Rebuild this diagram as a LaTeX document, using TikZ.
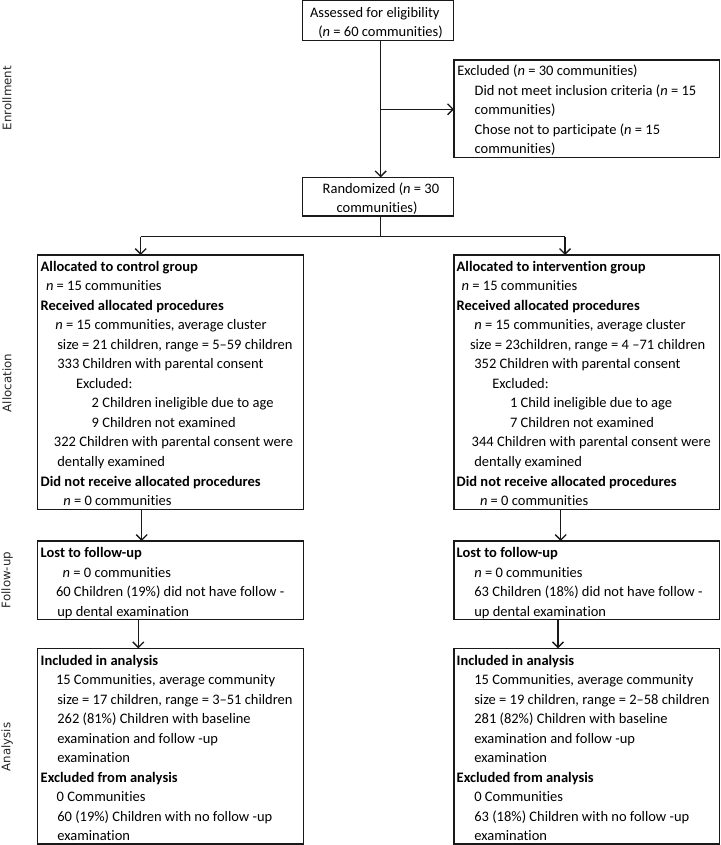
\documentclass[tikz,border=0pt]{standalone}
\usepackage{fontspec}
\setmainfont{Carlito}[Ligatures=NoCommon]
\newfontfamily\sidefont{DejaVu Sans}
\usetikzlibrary{arrows.meta}
\newcommand\tl[2]{\hbox{\kern#1pt #2}}
\begin{document}
\begin{tikzpicture}[x=1pt,y=-1pt,
  box/.style={draw=black!90, line width=1.3pt, inner sep=0pt, outer sep=0pt},
  txt/.style={anchor=base west, inner sep=0pt, outer sep=0pt, font=\fontsize{14.5pt}{19.55pt}\selectfont},
  side/.style={rotate=90, inner sep=0pt, font=\sidefont\fontsize{11.8pt}{14pt}\selectfont, text=black!85},
  conn/.style={line width=1.3pt, draw=black!90},
  arr/.style={conn, -{Straight Barb[length=5.5pt,width=11pt,line width=1.3pt]}}]
\useasboundingbox (0,0) rectangle (720,845);

% boxes
\node[box, minimum width=150.6pt, minimum height=39.6pt] (assess) at (378,20.5) {};
\node[box, minimum width=265.3pt, minimum height=97.3pt] (excl) at (586.65,108.65) {};
\node[box, minimum width=150.6pt, minimum height=38.7pt] (rand) at (378,196.65) {};
\node[box, minimum width=265.6pt, minimum height=254.3pt] (ctrl) at (170.5,382.15) {};
\node[box, minimum width=265.3pt, minimum height=254.3pt] (intv) at (586.65,382.15) {};
\node[box, minimum width=265.6pt, minimum height=78.3pt] (fuc) at (170.5,580.15) {};
\node[box, minimum width=265.3pt, minimum height=78.3pt] (fui) at (586.65,580.15) {};
\node[box, minimum width=265.6pt, minimum height=195.7pt] (anc) at (170.5,746.15) {};
\node[box, minimum width=265.3pt, minimum height=195.7pt] (ani) at (586.65,746.15) {};

% texts
\node[txt] (assesst) at (310,17.2) {\vtop{\baselineskip=19.6pt
  \tl{0}{Assessed for eligibility}
  \tl{8.3}{(\textit{n} = 60 communities)}}};
\node[txt] (exclt) at (457.3,75.6) {\vtop{\baselineskip=19.6pt
  \tl{0}{Excluded (\textit{n} = 30 communities)}
  \tl{17.4}{Did not meet inclusion criteria (\textit{n} = 15}
  \tl{17.4}{communities)}
  \tl{17.4}{Chose not to participate (\textit{n} = 15}
  \tl{17.4}{communities)}}};
\node[txt] (randt) at (322.7,193.3) {\vtop{\baselineskip=19.6pt
  \tl{0}{Randomized (\textit{n} = 30}
  \tl{14}{communities)}}};

\node[txt] (ctrlt) at (40.7,271) {\vtop{\baselineskip=19.55pt
  \tl{0}{\textbf{Allocated to control group}}
  \tl{5.3}{\textit{n} = 15 communities}
  \tl{0}{\textbf{Received allocated procedures}}
  \tl{14.6}{\textit{n} = 15 communities, average cluster}
  \tl{16.6}{size = 21 children, range = 5--59 children}
  \tl{16.6}{333 Children with parental consent}
  \tl{35.3}{Excluded:}
  \tl{51}{2 Children ineligible due to age}
  \tl{51}{9 Children not examined}
  \tl{13.3}{322 Children with parental consent were}
  \tl{16.6}{dentally examined}
  \tl{0}{\textbf{Did not receive allocated procedures}}
  \tl{22.6}{\textit{n} = 0 communities}}};

\node[txt] (intvt) at (456.7,271) {\vtop{\baselineskip=19.55pt
  \tl{0}{\textbf{Allocated to intervention group}}
  \tl{5}{\textit{n} = 15 communities}
  \tl{0}{\textbf{Received allocated procedures}}
  \tl{17.6}{\textit{n} = 15 communities, average cluster}
  \tl{13.3}{size = 23children, range = 4 --71 children}
  \tl{17.6}{352 Children with parental consent}
  \tl{35.6}{Excluded:}
  \tl{53.3}{1 Child ineligible due to age}
  \tl{53.3}{7 Children not examined}
  \tl{15}{344 Children with parental consent were}
  \tl{17.6}{dentally examined}
  \tl{0}{\textbf{Did not receive allocated procedures}}
  \tl{23.3}{\textit{n} = 0 communities}}};

\node[txt] (fuct) at (40.7,557.5) {\vtop{\baselineskip=19.55pt
  \tl{0}{\textbf{Lost to follow-up}}
  \tl{22}{\textit{n} = 0 communities}
  \tl{15.3}{60 Children (19\%) did not have follow -}
  \tl{16.6}{up dental examination}}};

\node[txt] (fuit) at (456.7,557.5) {\vtop{\baselineskip=19.55pt
  \tl{0}{\textbf{Lost to follow-up}}
  \tl{17.6}{\textit{n} = 0 communities}
  \tl{17.6}{63 Children (18\%) did not have follow -}
  \tl{17.6}{up dental examination}}};

\node[txt] (anct) at (40.7,665) {\vtop{\baselineskip=19.55pt
  \tl{0}{\textbf{Included in analysis}}
  \tl{15.3}{15 Communities, average community}
  \tl{16.6}{size = 17 children, range = 3--51 children}
  \tl{16.6}{262 (81\%) Children with baseline}
  \tl{16.6}{examination and follow -up}
  \tl{16.6}{examination}
  \tl{0}{\textbf{Excluded from analysis}}
  \tl{16}{0 Communities}
  \tl{16.6}{60 (19\%) Children with no follow -up}
  \tl{16.6}{examination}}};

\node[txt] (anit) at (456.7,665) {\vtop{\baselineskip=19.55pt
  \tl{0}{\textbf{Included in analysis}}
  \tl{17.6}{15 Communities, average community}
  \tl{17.6}{size = 19 children, range = 2--58 children}
  \tl{17.6}{281 (82\%) Children with baseline}
  \tl{17.6}{examination and follow -up}
  \tl{17.6}{examination}
  \tl{0}{\textbf{Excluded from analysis}}
  \tl{17.6}{0 Communities}
  \tl{17.6}{63 (18\%) Children with no follow -up}
  \tl{17.6}{examination}}};

% side labels
\node[side] (enr) at (7,98) {Enrollment};
\node[side] (alo) at (7,383) {Allocation};
\node[side] (fol) at (7,580) {Follow-up};
\node[side] (ana) at (7,747) {Analysis};

% connectors
\coordinate (v1) at (380.7,0);
\coordinate (br) at (380.7,109.3);
\draw[arr] (assess.south -| v1) -- (rand.north -| v1);
\draw[arr] (br) -- (excl.west |- br);
\coordinate (sp) at (380.5,236.7);
\coordinate (cl) at (140.7,236.7);
\coordinate (cr) at (565,236.7);
\draw[conn] (rand.south -| sp) -- (sp);
\draw[conn] (cl) -- (cr);
\draw[arr] (cl) -- (ctrl.north -| cl);
\draw[arr] (cr) -- (intv.north -| cr);
\coordinate (a1) at (141.7,0);
\coordinate (a2) at (138.3,0);
\coordinate (b1) at (560.7,0);
\coordinate (b2) at (558,0);
\draw[arr] (ctrl.south -| a1) -- (fuc.north -| a1);
\draw[arr] (fuc.south -| a2) -- (anc.north -| a2);
\draw[arr] (intv.south -| b1) -- (fui.north -| b1);
\draw[arr] (fui.south -| b2) -- (ani.north -| b2);
\end{tikzpicture}
\end{document}
